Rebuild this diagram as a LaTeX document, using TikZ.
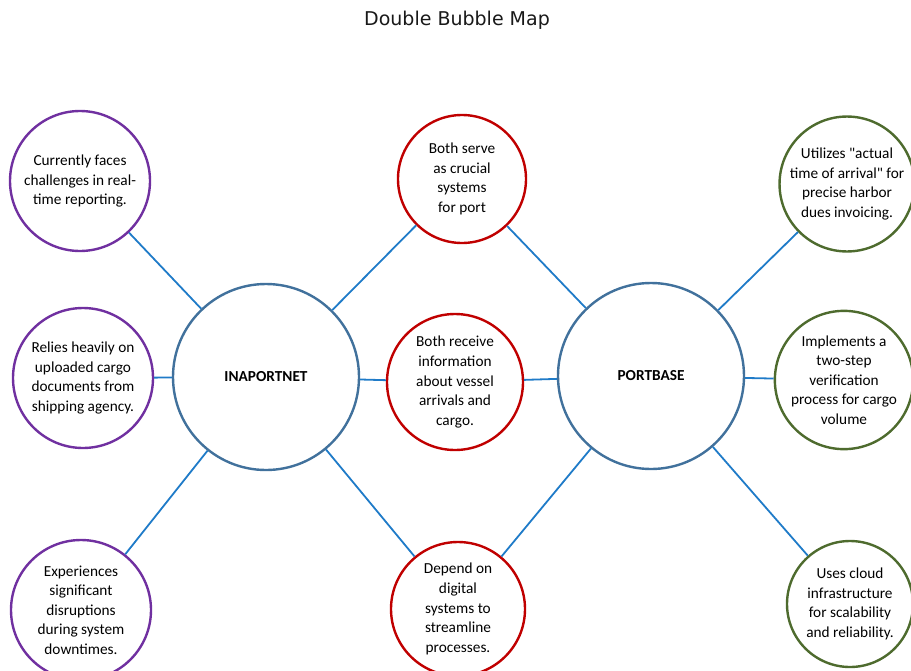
\documentclass[tikz,border=0pt]{standalone}
\usepackage{fontspec}
\setmainfont{Carlito}
\newfontfamily\titlefont{DejaVu Sans}
\definecolor{hubblue}{HTML}{41719C}
\definecolor{linkblue}{HTML}{1F7BC8}
\definecolor{inapurple}{HTML}{7030A0}
\definecolor{bothred}{HTML}{C00000}
\definecolor{portgreen}{HTML}{4E6B2E}
\begin{document}
\begin{tikzpicture}[
    x=1pt, y=-1pt,
    every node/.style = {shape=circle, align=center, inner sep=0pt, text=black,
                         font=\fontsize{15.3}{19.6}\selectfont},
    hub/.style = {draw=hubblue, line width=2.4pt, minimum size=186pt, font=\fontsize{15.3}{19.6}\selectfont\bfseries},
    inapo/.style = {draw=inapurple, line width=2.4pt, minimum size=140pt},
    both/.style = {draw=bothred, line width=2.4pt, minimum size=#1},
    porto/.style = {draw=portgreen, line width=2.4pt, minimum size=#1},
    link/.style = {draw=linkblue, line width=1.8pt}
    ]
    \useasboundingbox (0,0) rectangle (911,670);
    \node[shape=rectangle, font=\titlefont\fontsize{19}{22}\selectfont, text=black!90] (title) at (457,20) {Double Bubble Map};

    % the two main topics
    \node[hub] (inaportnet) at (266,377) {INAPORTNET};
    \node[hub] (portbase) at (651,376) {PORTBASE};

    % INAPORTNET only
    \node[inapo] (ina1) at (80,181) {Currently faces\\challenges in real-\\time reporting.};
    \node[inapo] (ina2) at (83,378) {Relies heavily on\\uploaded cargo\\documents from\\shipping agency.};
    \node[inapo] (ina3) at (81,610) {Experiences\\significant\\disruptions\\during system\\downtimes.};

    % shared
    \node[both=128pt] (both1) at (462,179) {Both serve\\as crucial\\systems\\for port};
    \node[both=136pt] (both2) at (455,382) {Both receive\\information\\about vessel\\arrivals and\\cargo.};
    \node[both=134pt] (both3) at (458,609) {Depend on\\digital\\systems to\\streamline\\processes.};

    % PORTBASE only
    \node[porto=126pt] (port1) at (847,184) {Utilizes \textquotedbl actual\\time of arrival\textquotedbl{} for\\precise harbor\\dues invoicing.};
    \node[porto=132pt] (port2) at (844,380) {Implements a\\two-step\\verification\\process for cargo\\volume};
    \node[porto=126pt] (port3) at (850,604) {Uses cloud\\infrastructure\\for scalability\\and reliability.};

    \foreach \n in {ina1,ina2,ina3,both1,both2,both3}
        \draw[link] (inaportnet) -- (\n);
    \foreach \n in {both1,both2,both3,port1,port2,port3}
        \draw[link] (portbase) -- (\n);
\end{tikzpicture}
\end{document}
